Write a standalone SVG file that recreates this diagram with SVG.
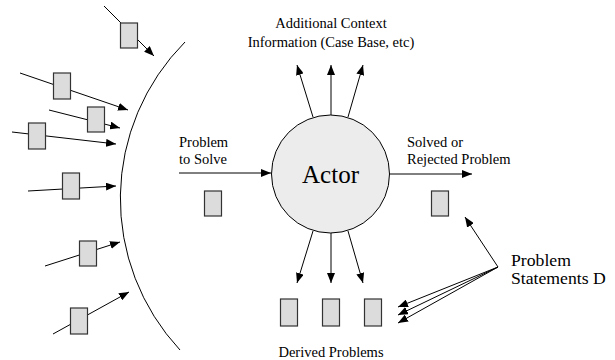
<svg xmlns="http://www.w3.org/2000/svg" width="615" height="360" viewBox="0 0 615 360">
<style>
.ln{stroke:#000;stroke-width:1;fill:none}
.box{fill:#dcdcdc;stroke:#333;stroke-width:1.2}
.t{font-family:"Liberation Serif","Times New Roman",serif;font-size:14.5px;fill:#000}
.tl{font-family:"Liberation Serif","Times New Roman",serif;font-size:17.7px;fill:#000}
</style>
<defs>
<marker id="ah" viewBox="0 0 10 8" refX="10" refY="4" markerWidth="10" markerHeight="8" markerUnits="userSpaceOnUse" orient="auto">
<path d="M0,0 L10,4 L0,8 Z" fill="#000"/>
</marker>
</defs>
<g id="connectors">
<path class="ln" d="M185,42 A222,222 0 0 0 180,350"/>
<line class="ln" x1="104" y1="6" x2="154" y2="56" marker-end="url(#ah)"/>
<line class="ln" x1="20" y1="73" x2="128" y2="110" marker-end="url(#ah)"/>
<line class="ln" x1="49" y1="110" x2="120" y2="128" marker-end="url(#ah)"/>
<line class="ln" x1="12" y1="132" x2="116" y2="144" marker-end="url(#ah)"/>
<line class="ln" x1="28" y1="191" x2="116" y2="186" marker-end="url(#ah)"/>
<line class="ln" x1="45" y1="266" x2="120" y2="242" marker-end="url(#ah)"/>
<line class="ln" x1="53" y1="334" x2="129" y2="292" marker-end="url(#ah)"/>
<line class="ln" x1="179" y1="173" x2="271" y2="173" marker-end="url(#ah)"/>
<line class="ln" x1="390" y1="174" x2="472" y2="174" marker-end="url(#ah)"/>
<line class="ln" x1="313" y1="117" x2="297" y2="65" marker-end="url(#ah)"/>
<line class="ln" x1="331" y1="115" x2="331" y2="65" marker-end="url(#ah)"/>
<line class="ln" x1="348" y1="117" x2="363" y2="65" marker-end="url(#ah)"/>
<line class="ln" x1="313" y1="231" x2="297" y2="283" marker-end="url(#ah)"/>
<line class="ln" x1="331" y1="233" x2="331" y2="283" marker-end="url(#ah)"/>
<line class="ln" x1="348" y1="231" x2="363" y2="283" marker-end="url(#ah)"/>
<line class="ln" x1="498" y1="267" x2="465" y2="217" marker-end="url(#ah)"/>
<line class="ln" x1="498" y1="267" x2="398" y2="307" marker-end="url(#ah)"/>
<line class="ln" x1="498" y1="267" x2="398" y2="315" marker-end="url(#ah)"/>
<line class="ln" x1="498" y1="267" x2="398" y2="323" marker-end="url(#ah)"/>
</g>
<g id="incoming-problems">
<rect class="box" x="120.5" y="23" width="17" height="25"/>
<rect class="box" x="53.5" y="73" width="17" height="26"/>
<rect class="box" x="87.5" y="107" width="17" height="25"/>
<rect class="box" x="28.5" y="123" width="17" height="26"/>
<rect class="box" x="62.5" y="173" width="17" height="26"/>
<rect class="box" x="79.5" y="241" width="17" height="25"/>
<rect class="box" x="70.5" y="308" width="17" height="26"/>
</g>
<g id="actor">
<circle cx="330.5" cy="174" r="59" fill="#ececec" stroke="#000" stroke-width="1"/>
<text x="330.5" y="183" text-anchor="middle" font-family="'Liberation Serif','Times New Roman',serif" font-size="25px">Actor</text>
</g>
<g id="problem-to-solve">
<text class="t" x="179" y="147">Problem</text>
<text class="t" x="179" y="164">to Solve</text>
<rect class="box" x="204.5" y="191" width="17" height="25"/>
</g>
<g id="solved-problem">
<text class="t" x="407" y="147">Solved or</text>
<text class="t" x="407" y="164">Rejected Problem</text>
<rect class="box" x="431.5" y="191" width="17" height="25"/>
</g>
<g id="context">
<text class="t" x="331" y="28" text-anchor="middle">Additional Context</text>
<text class="t" x="331" y="47" text-anchor="middle">Information (Case Base, etc)</text>
</g>
<g id="derived-problems">
<rect class="box" x="280.5" y="299" width="17" height="27"/>
<rect class="box" x="322.5" y="299" width="17" height="27"/>
<rect class="box" x="364.5" y="299" width="17" height="27"/>
<text class="t" x="331" y="357" text-anchor="middle">Derived Problems</text>
</g>
<g id="problem-statements">
<text class="tl" x="511" y="266">Problem</text>
<text class="tl" x="511" y="284">Statements D</text>
</g>
</svg>
